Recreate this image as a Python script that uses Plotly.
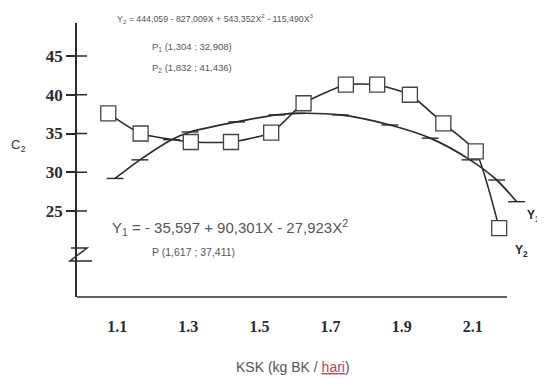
import plotly.graph_objects as go

# ---- data ----
y2_x = [1.075, 1.166, 1.307, 1.420, 1.533, 1.624, 1.743, 1.831, 1.923, 2.017, 2.108, 2.174]
y2_y = [37.6, 35.0, 33.9, 33.9, 35.1, 38.9, 41.3, 41.3, 40.0, 36.3, 32.7, 22.8]

y1_x = [1.094, 1.164, 1.253, 1.305, 1.436, 1.549, 1.605, 1.727, 1.867, 1.980, 2.092, 2.167, 2.223]
y1_y = [29.2, 31.6, 34.2, 35.2, 36.5, 37.4, 37.6, 37.4, 36.1, 34.4, 31.6, 29.0, 26.2]

x_ticks = [1.1, 1.3, 1.5, 1.7, 1.9, 2.1]
x_ticktext = ["1.1", "1.3", "1.5", "1.7", "1.9", "2.1"]
y_ticks = [25, 30, 35, 40, 45]
y_ticktext = ["25", "30", "35", "40", "45"]

# ---- layout geometry (window pixels; the page body adds an 8px offset) ----
OFF = 8
WIN_W, WIN_H = 545, 378
W, H = WIN_W - OFF, WIN_H - OFF
L, T, B = 77, 23, 297          # plot area in window pixels
PW, PH = WIN_W - L, B - T
XR = [0.9871, 2.3028]
YR = [13.903, 49.258]
INK = "#2b2b2b"


def fx(px):
    return (px - L) / PW


def fy(py):
    return (B - py) / PH


fig = go.Figure()

fig.add_trace(go.Scatter(
    x=y1_x, y=y1_y, mode="lines+markers", name="Y1",
    line=dict(color=INK, width=1.7, shape="spline", smoothing=0.8),
    marker=dict(symbol="line-ew", size=12, line=dict(color=INK, width=1.4)),
    showlegend=False,
))
fig.add_trace(go.Scatter(
    x=y2_x, y=y2_y, mode="lines+markers", name="Y2",
    line=dict(color=INK, width=1.6, shape="spline", smoothing=0.5),
    marker=dict(symbol="square", size=15, color="white", line=dict(color="#444", width=1.3)),
    showlegend=False,
))

shapes = []
# x axis line
shapes.append(dict(type="line", xref="paper", yref="paper", x0=fx(L), x1=fx(507), y0=0, y1=0,
                   line=dict(color=INK, width=1.6)))
# inside part of y ticks
for v in y_ticks:
    shapes.append(dict(type="line", xref="paper", yref="y", x0=0, x1=fx(L + 10), y0=v, y1=v,
                       line=dict(color=INK, width=1.5)))
# axis break "Z"
zpath = "M {a},{b} L {c},{b} L {d},{e} L {f},{e}".format(
    a=fx(71), b=fy(248), c=fx(87), d=fx(70), e=fy(261), f=fx(92))
shapes.append(dict(type="path", xref="paper", yref="paper", path=zpath,
                   line=dict(color=INK, width=1.5)))

annotations = []


def note(text, px, py, size, color="#555", anchor="left", family="Liberation Sans"):
    annotations.append(dict(text=text, x=fx(px), y=fy(py), xref="paper", yref="paper",
                            xanchor=anchor, yanchor="middle", showarrow=False,
                            font=dict(size=size, color=color, family=family)))


note("Y<sub>2</sub> = 444,059 - 827,009X + 543,352X<sup>2</sup> - 115,490X<sup>3</sup>", 115, 18, 8.8)
note("P<sub>1</sub> (1,304 ; 32,908)", 150, 47, 9.5)
note("P<sub>2</sub> (1,832 ; 41,436)", 150, 68, 9.5)
note("Y<sub>1</sub> = - 35,597 + 90,301X - 27,923X<sup>2</sup>", 110, 227, 15)
note("P (1,617 ; 37,411)", 150, 252, 10.5)
note("<b>Y<sub>1</sub></b>", 525, 216, 12, color=INK)
note("<b>Y<sub>2</sub></b>", 513, 251, 12, color=INK)
note("C<sub>2</sub>", 18, 145, 13, color="#333", anchor="center")
note("KSK (kg BK / <span style='text-decoration:underline;color:#b04a5a'>hari</span>)",
     293, 367, 14, color="#555", anchor="center")

fig.update_layout(
    width=W, height=H, autosize=False,
    margin=dict(l=L - OFF, r=0, t=T - OFF, b=WIN_H - B, pad=0),
    paper_bgcolor="white", plot_bgcolor="white",
    shapes=shapes, annotations=annotations,
    xaxis=dict(range=XR, showgrid=False, zeroline=False, showline=False,
               tickvals=x_ticks, ticktext=x_ticktext, ticks="", ticklabelstandoff=18,
               tickfont=dict(family="Liberation Serif", size=16, color=INK, weight="bold")),
    yaxis=dict(range=YR, showgrid=False, zeroline=False, showline=True,
               linecolor=INK, linewidth=1.5,
               tickvals=y_ticks, ticktext=y_ticktext, ticks="outside", ticklen=9,
               tickwidth=1.5, tickcolor=INK,
               tickfont=dict(family="Liberation Serif", size=17, color=INK, weight="bold")),
)

fig.write_html("out.html")
